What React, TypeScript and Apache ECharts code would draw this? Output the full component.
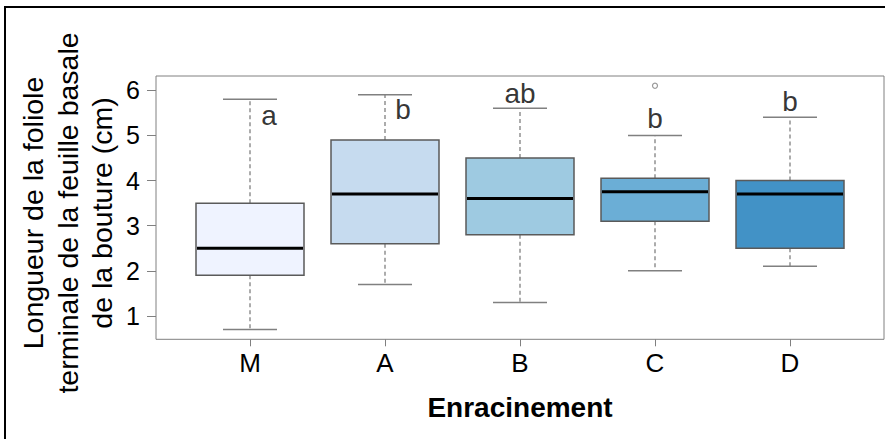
import React, { useEffect, useRef } from "react";
import * as echarts from "echarts";

// ---- data ----
const categories = ["M", "A", "B", "C", "D"];
const whiskerLow = [0.7, 1.7, 1.3, 2.0, 2.1];
const quartile1 = [1.9, 2.6, 2.8, 3.1, 2.5];
const medians = [2.5, 3.7, 3.6, 3.75, 3.7];
const quartile3 = [3.5, 4.9, 4.5, 4.05, 4.0];
const whiskerHigh = [5.8, 5.9, 5.6, 5.0, 5.4];
const outliers: [string, number][] = [["C", 6.1]];
const letters = ["a", "b", "ab", "b", "b"];
const letterLevels = [5.44, 5.57, 5.92, 5.37, 5.75];
const yTickValues = [1, 2, 3, 4, 5, 6];
const yTitle = "Longueur de la foliole\nterminale de la feuille basale\nde la bouture (cm)";
const xTitle = "Enracinement";

// ---- styles ----
const boxColors = ["#eff3ff", "#c6dbef", "#9ecae1", "#6baed6", "#4292c6"];
const letterDx = [19, 18, 0, 0, 0];
const FONT = "Liberation Sans, Arial, Helvetica, sans-serif";
const GRAY = "#808080";
const BOX_BORDER = "#5a5a5a";

export default function App() {
  const ref = useRef<HTMLDivElement>(null);

  useEffect(() => {
    if (!ref.current) return;
    const chart = echarts.init(ref.current, null, { renderer: "svg" });

    const boxData = categories.map((c, i) => [
      i,
      whiskerLow[i],
      quartile1[i],
      medians[i],
      quartile3[i],
      whiskerHigh[i],
    ]);

    const option: any = {
      animation: false,
      backgroundColor: "#ffffff",
      grid: [
        { left: 182.5, top: 76, width: 675, height: 263.3, show: false },
        {
          left: 156,
          top: 76,
          width: 728,
          height: 263.3,
          show: true,
          borderColor: GRAY,
          borderWidth: 1,
          backgroundColor: "transparent",
        },
      ],
      xAxis: [
        {
          type: "category",
          gridIndex: 0,
          data: categories,
          boundaryGap: true,
          axisLine: { show: false },
          axisTick: {
            show: true,
            alignWithLabel: true,
            length: 7,
            lineStyle: { color: GRAY, width: 1 },
          },
          axisLabel: {
            margin: 11,
            fontSize: 26,
            fontFamily: FONT,
            color: "#000",
          },
          name: xTitle,
          nameLocation: "middle",
          nameGap: 54,
          nameTextStyle: {
            fontSize: 28,
            fontWeight: "bold",
            fontFamily: FONT,
            color: "#000",
          },
          splitLine: { show: false },
        },
        { type: "value", gridIndex: 1, show: false, min: 0, max: 1 },
      ],
      yAxis: [
        {
          type: "value",
          gridIndex: 0,
          min: 0.484,
          max: 6.316,
          offset: 26.5,
          axisLine: { show: false },
          axisTick: {
            show: true,
            length: 9,
            customValues: yTickValues,
            lineStyle: { color: GRAY, width: 1 },
          },
          axisLabel: {
            margin: 16,
            fontSize: 25,
            fontFamily: FONT,
            color: "#000",
            customValues: yTickValues,
          },
          splitLine: { show: false },
        },
        { type: "value", gridIndex: 1, show: false, min: 0, max: 1 },
      ],
      graphic: [
        {
          type: "line",
          shape: { x1: 4, y1: 7, x2: 885, y2: 7 },
          style: { stroke: "#000", lineWidth: 2 },
          silent: true,
        },
        {
          type: "line",
          shape: { x1: 5, y1: 6, x2: 5, y2: 439 },
          style: { stroke: "#000", lineWidth: 2 },
          silent: true,
        },
        {
          type: "text",
          x: 67.5,
          y: 213,
          rotation: Math.PI / 2,
          style: {
            text: yTitle,
            font: `28.5px ${FONT}`,
            fill: "#000",
            textAlign: "center",
            textVerticalAlign: "middle",
            lineHeight: 34.5,
          },
        },
      ],
      series: [
        {
          type: "custom",
          xAxisIndex: 0,
          yAxisIndex: 0,
          data: boxData,
          encode: { x: 0, y: [1, 2, 3, 4, 5] },
          renderItem: (params: any, api: any) => {
            const x = api.value(0);
            const lo = api.coord([x, api.value(1)]);
            const q1 = api.coord([x, api.value(2)]);
            const med = api.coord([x, api.value(3)]);
            const q3 = api.coord([x, api.value(4)]);
            const hi = api.coord([x, api.value(5)]);
            const bw = api.size([1, 0])[0] * 0.8;
            const cx = lo[0];
            const half = bw / 2;
            const capHalf = bw / 4;
            const dashStyle = {
              stroke: GRAY,
              lineWidth: 1.3,
              lineDash: [4, 3],
            };
            const capStyle = { stroke: GRAY, lineWidth: 1.5 };
            return {
              type: "group",
              children: [
                {
                  type: "line",
                  shape: { x1: cx, y1: q3[1], x2: cx, y2: hi[1] },
                  style: dashStyle,
                },
                {
                  type: "line",
                  shape: { x1: cx, y1: q1[1], x2: cx, y2: lo[1] },
                  style: dashStyle,
                },
                {
                  type: "line",
                  shape: { x1: cx - capHalf, y1: hi[1], x2: cx + capHalf, y2: hi[1] },
                  style: capStyle,
                },
                {
                  type: "line",
                  shape: { x1: cx - capHalf, y1: lo[1], x2: cx + capHalf, y2: lo[1] },
                  style: capStyle,
                },
                {
                  type: "rect",
                  shape: { x: cx - half, y: q3[1], width: bw, height: q1[1] - q3[1] },
                  style: {
                    fill: boxColors[params.dataIndex],
                    stroke: BOX_BORDER,
                    lineWidth: 1.5,
                  },
                },
                {
                  type: "line",
                  shape: { x1: cx - half + 1, y1: med[1], x2: cx + half - 1, y2: med[1] },
                  style: { stroke: "#000", lineWidth: 3 },
                },
              ],
            };
          },
          z: 2,
        },
        {
          type: "scatter",
          xAxisIndex: 0,
          yAxisIndex: 0,
          data: outliers,
          symbol: "circle",
          symbolSize: 5,
          itemStyle: { color: "#fff", borderColor: GRAY, borderWidth: 1.2 },
          z: 3,
        },
        {
          type: "scatter",
          xAxisIndex: 0,
          yAxisIndex: 0,
          symbolSize: 0,
          data: categories.map((c, i) => ({
            value: [c, letterLevels[i]],
            label: {
              show: true,
              position: "inside",
              formatter: letters[i],
              offset: [letterDx[i], 0],
              fontSize: 28,
              fontFamily: FONT,
              color: "#000",
            },
          })),
          z: 4,
        },
      ],
    };

    chart.setOption(option);
    return () => chart.dispose();
  }, []);

  return (
    <div
      ref={ref}
      style={{
        position: "fixed",
        left: 0,
        top: 0,
        width: 885,
        height: 439,
        background: "#fff",
      }}
    />
  );
}
